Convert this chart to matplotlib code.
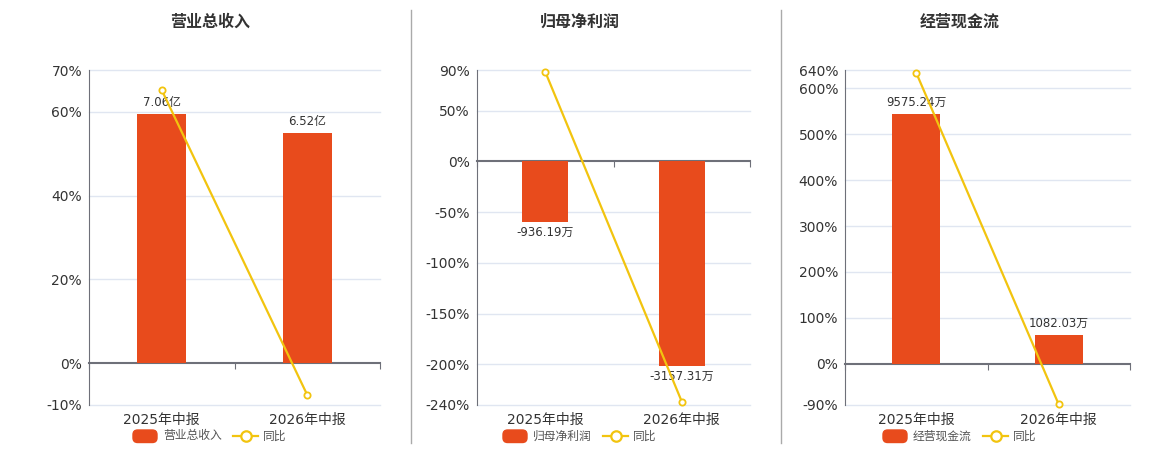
import numpy as np
import matplotlib.pyplot as plt
from matplotlib.patches import FancyBboxPatch
from matplotlib.lines import Line2D

plt.rcParams['font.family'] = ['DejaVu Sans', 'Noto Sans CJK SC']

periods = ['2025年中报', '2026年中报']

titles = ['营业总收入', '归母净利润', '经营现金流']
bar_values = [[7.06, 6.52], [-936.19, -3157.31], [9575.24, 1082.03]]
bar_labels = [['7.06亿', '6.52亿'], ['-936.19万', '-3157.31万'], ['9575.24万', '1082.03万']]
yoy_pct = [[65.2, -7.6], [88.2, -236.6], [633.8, -88.9]]

pct_ticks = [[70, 60, 40, 20, 0, -10],
             [90, 50, 0, -50, -100, -150, -200, -240],
             [640, 600, 500, 400, 300, 200, 100, 0, -90]]
# scale of the hidden bar axis: bar units per percent on the left axis
bar_per_pct = [7.06 / 59.4, 3157.31 / 201.4, 9575.24 / 544.0]

BAR = '#E84B1C'
LINE = '#F2C40F'
AXIS = '#6E7079'
GRID = '#E0E6F1'
TXT = '#333333'

W, H = 1160, 450
fig = plt.figure(figsize=(W / 100, H / 100), dpi=100)

# pixel layout of each panel: axes left/right, title x, legend x
lefts = [89, 477, 845]
rights = [380, 750, 1130]
title_x = [210, 580, 960]
leg_x = [133, 503, 883]
top, bottom = 70, 405


def fx(px):
    return px / W


def fy(py):
    return 1 - py / H


for i in range(3):
    l, r = lefts[i], rights[i]
    rect = [fx(l), fy(bottom), fx(r - l), (bottom - top) / H]
    lo, hi = min(pct_ticks[i]), max(pct_ticks[i])
    x = np.arange(len(periods))

    ax = fig.add_axes(rect)
    ax.set_xlim(-0.5, 1.5)
    ax.set_ylim(lo, hi)
    ax.set_yticks(pct_ticks[i])
    ax.set_yticklabels([f'{t}%' for t in pct_ticks[i]])
    ax.tick_params(axis='y', length=0, pad=5, labelsize=10, labelcolor=TXT)
    for t in pct_ticks[i]:
        if t != 0:
            ax.axhline(t, color=GRID, lw=1, zorder=0, clip_on=False)
    for s in ['top', 'right']:
        ax.spines[s].set_visible(False)
    ax.spines['left'].set_color(AXIS)
    ax.spines['bottom'].set_position(('data', 0))
    ax.spines['bottom'].set_color(AXIS)
    ax.spines['bottom'].set_linewidth(1.5)
    ax.set_xticks([-0.5, 0.5, 1.5])
    ax.set_xticklabels([])
    ax.tick_params(axis='x', length=4, color=AXIS, direction='out')
    for j, p in enumerate(periods):
        ax.text(j, -0.045, p, transform=ax.get_xaxis_transform(),
                ha='center', va='center', fontsize=10, color=TXT)

    # bars on a hidden twin axis
    bx = ax.twinx()
    k = bar_per_pct[i]
    bx.set_ylim(lo * k, hi * k)
    bx.axis('off')
    bx.bar(x, bar_values[i], width=0.335, color=BAR, zorder=2)
    for j, v in enumerate(bar_values[i]):
        off = 4 if v >= 0 else -3
        bx.annotate(bar_labels[i][j], (j, v), xytext=(0, off), textcoords='offset points',
                    ha='center', va='bottom' if v >= 0 else 'top', fontsize=8.5, color=TXT)

    # yoy line on top
    lx = ax.twinx()
    lx.set_ylim(lo, hi)
    lx.axis('off')
    lx.plot(x, yoy_pct[i], color=LINE, lw=1.6, marker='o', ms=4.5,
            mfc='white', mec=LINE, mew=1.3, clip_on=False)

    fig.text(fx(title_x[i]), fy(22), titles[i], ha='center', va='center',
             fontsize=11.5, fontweight='bold', color=TXT)

    # legend
    a = leg_x[i]
    fig.patches.append(FancyBboxPatch((fx(a), fy(442.5)), fx(24), 12.5 / H,
                                      boxstyle='round,pad=0,rounding_size=0.004',
                                      transform=fig.transFigure, color=BAR, mutation_aspect=W / H))
    fig.text(fx(a + 30), fy(436), titles[i], ha='left', va='center', fontsize=8.5, color='#555555')
    b = a + 100
    fig.lines.append(Line2D([fx(b), fx(b + 25)], [fy(436), fy(436)], transform=fig.transFigure,
                            color=LINE, lw=1.6))
    fig.lines.append(Line2D([fx(b + 12.5)], [fy(436)], transform=fig.transFigure, marker='o',
                            ms=7.5, mfc='white', mec=LINE, mew=1.6))
    fig.text(fx(b + 30), fy(436), '同比', ha='left', va='center', fontsize=8.5, color='#555555')

# panel dividers
for d in [410.5, 780.5]:
    fig.lines.append(Line2D([fx(d), fx(d)], [fy(10), fy(443)], transform=fig.transFigure,
                            color='#AAAAAA', lw=1))

fig.savefig('out.png', dpi=100)
